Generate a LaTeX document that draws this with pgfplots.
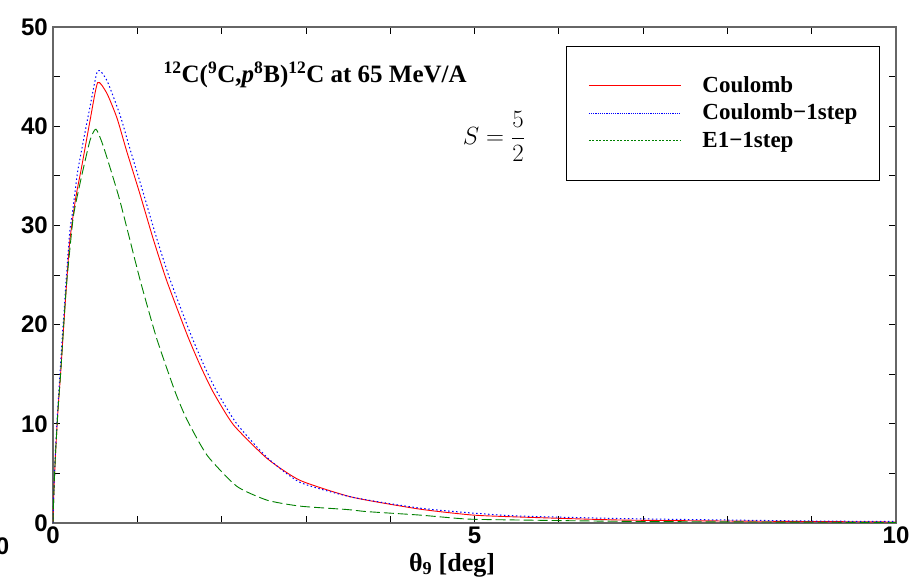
\documentclass[border=0pt]{standalone}
\usepackage[no-math]{fontspec}
\setmainfont{Liberation Serif}
\newfontfamily\arialfont{Liberation Sans}
\usepackage{pgfplots}
\pgfplotsset{compat=1.18}
\definecolor{cgreen}{rgb}{0,0.5,0}
\definecolor{cred}{rgb}{1,0,0}
\definecolor{cblue}{rgb}{0,0,1}
\pgfplotstableread{
x y
0 0
0.01 3
0.03 7
0.06 11.5
0.09 15
0.12 19
0.16 24
0.2 28.5
0.27 32.8
0.34 35.9
0.44 40.6
0.53 44.4
0.64 43.3
0.76 40.8
0.87 37.6
1.03 33.2
1.19 28.6
1.35 24.4
1.59 19.0
1.74 16.0
1.90 13.2
2.14 9.9
2.54 6.5
2.93 4.3
3.55 2.6
4.35 1.4
4.98 0.8
5.54 0.6
6.73 0.3
8 0.2
9 0.15
10 0.1
}\coulomb
\pgfplotstableread{
x y
0 0
0.01 3
0.03 7.5
0.06 12
0.09 16
0.12 20
0.16 25
0.2 29.5
0.23 31.2
0.29 35.3
0.36 38.5
0.44 42
0.53 45.6
0.64 44.6
0.80 41.0
0.91 37.8
1.07 33.3
1.23 28.7
1.39 24.5
1.63 19.1
1.78 16.1
1.94 13.3
2.18 10.0
2.54 6.6
2.93 4.1
3.55 2.6
4.35 1.5
4.98 1.0
5.54 0.7
6.73 0.45
8 0.3
9 0.2
10 0.15
}\coulombone
\pgfplotstableread{
x y
0 0
0.01 3
0.03 7
0.06 11.5
0.09 15
0.12 19
0.16 24
0.24 30.8
0.33 34.6
0.44 38.6
0.51 39.7
0.6 37.9
0.79 32.6
1.03 24.6
1.23 18.6
1.45 13.2
1.59 10.4
1.83 6.8
2.18 3.7
2.54 2.3
2.93 1.7
3.5 1.35
3.72 1.15
4.35 0.8
4.91 0.4
5.54 0.3
7 0.15
10 0.05
}\eone
\begin{document}
\begin{tikzpicture}
\path[use as bounding box] (-53pt,-59pt) rectangle (861pt,523pt);
\begin{axis}[
  at={(0pt,0pt)}, anchor=south west,
  scale only axis, width=843pt, height=496pt,
  xmin=0, xmax=10, ymin=0, ymax=50,
  xtick={0,1,...,10}, xticklabels={0,,,,,5,,,,,10},
  ytick={0,5,...,50}, yticklabels={0,,10,,20,,30,,40,,50},
  tick align=inside, major tick length=7pt,
  tick style={black, line width=0.8pt},
  axis line style={black!60, line width=1.1pt},
  /pgf/number format/assume math mode=true,
  ticklabel style={font=\arialfont\bfseries\fontsize{24}{24}\selectfont},
  yticklabel style={inner xsep=5pt},
  legend style={at={(rel axis cs:0.6085,0.9617)}, anchor=north west,
    fill=white,
    inner xsep=22pt, inner ysep=30pt, row sep=8.5pt, column sep=21pt,
    nodes={inner sep=0pt, text height=16pt, text depth=3pt},
    font=\bfseries\fontsize{23}{25}\selectfont},
  legend cell align=left,
]
\addplot[color=cred, line width=0.9pt, smooth, tension=0.35, forget plot] table {\coulomb};
\addplot[color=cblue, line width=1pt, dash pattern=on 1.5pt off 2.5pt, smooth, tension=0.35, forget plot] table {\coulombone};
\addplot[color=cgreen, line width=0.9pt, dash pattern=on 10pt off 4pt, smooth, tension=0.35, forget plot] table {\eone};
\addlegendimage{legend image code/.code={\draw[draw=cred, line width=1.3pt] (0pt,0pt) -- (92pt,0pt);}}
\addlegendentry{Coulomb}
\addlegendimage{legend image code/.code={\draw[draw=cblue, line width=1.3pt, dash pattern=on 1.2pt off 1pt] (0pt,0pt) -- (92pt,0pt);}}
\addlegendentry{Coulomb−1step}
\addlegendimage{legend image code/.code={\draw[draw=cgreen, line width=1.3pt, dash pattern=on 2pt off 1.5pt] (0pt,0pt) -- (92pt,0pt);}}
\addlegendentry{E1−1step}
\node[anchor=base, font=\bfseries\fontsize{25}{28}\selectfont] at (axis cs:3.11,44.45)
  {\textsuperscript{12}C(\textsuperscript{9}C,\textit{p}\textsuperscript{8}B)\textsuperscript{12}C at 65 MeV/A};
\node[font=\fontsize{24}{28}\selectfont] at (axis cs:5.23,38.96) {$\displaystyle S=\frac{5}{2}$};
\end{axis}
\node[anchor=base, font=\bfseries\fontsize{26}{28}\selectfont] at (399pt,-48pt) {θ\textsubscript{9} [deg]};
\node[font=\arialfont\bfseries\fontsize{24}{24}\selectfont] at (-50.5pt,-23pt) {0};
\end{tikzpicture}
\end{document}
